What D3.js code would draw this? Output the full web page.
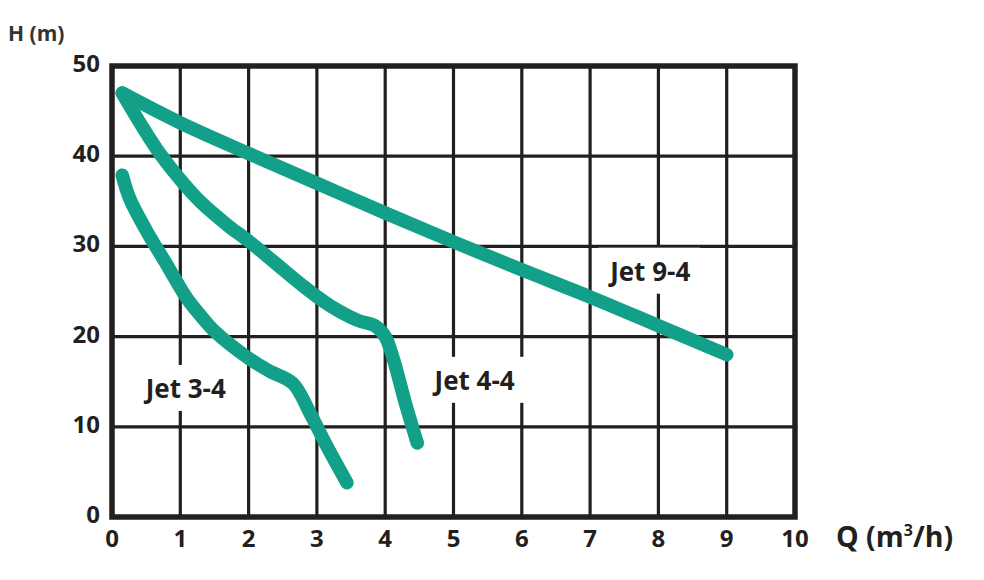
<!DOCTYPE html>
<html>
<head>
<meta charset="utf-8">
<script src="https://cdn.jsdelivr.net/npm/d3@7"></script>
<style>
  html, body { margin: 0; padding: 0; background: #fff; }
  svg { display: block; }
  text { font-family: "Open Sans", "Noto Sans", sans-serif; font-weight: 700; }
</style>
</head>
<body>
<svg id="chart" width="984" height="580"></svg>
<script>
// ---- data ----
const qTicks = [0, 1, 2, 3, 4, 5, 6, 7, 8, 9, 10];
const hTicks = [0, 10, 20, 30, 40, 50];

const jet94Q = [0.15, 1, 2, 3, 4, 5, 6, 7, 8, 9];
const jet94H = [47, 43.7, 40.3, 37.0, 33.7, 30.5, 27.4, 24.4, 21.2, 18];

const jet44Q = [0.15, 0.45, 0.7, 1.0, 1.3, 1.7, 2.0, 2.4, 2.8, 3.2, 3.6, 3.85, 4.0, 4.12, 4.3, 4.47];
const jet44H = [47, 43.2, 40.3, 37.4, 34.9, 32.3, 30.6, 28.1, 25.6, 23.4, 21.8, 21.2, 20.0, 17.5, 12.5, 8.2];

const jet34Q = [0.15, 0.26, 0.5, 0.8, 1.1, 1.3, 1.5, 2.0, 2.3, 2.65, 2.9, 3.15, 3.44];
const jet34H = [37.9, 35.3, 31.8, 28.0, 24.2, 22.3, 20.6, 17.6, 16.2, 14.8, 11.5, 7.8, 3.8];

const seriesNames = ["Jet 9-4", "Jet 4-4", "Jet 3-4"];
const labelQ = [7.88, 5.31, 1.08];
const labelH = [26.2, 14.1, 13.2];

// ---- layout ----
const svg = d3.select("#chart");
const x = d3.scaleLinear().domain([0, 10]).range([112, 795]);
const y = d3.scaleLinear().domain([0, 50]).range([517, 66]);
const ink = "#231f20";
const teal = "#13a088";

// grid lines
const grid = svg.append("g");
grid.selectAll("line.v").data(qTicks.slice(1, -1)).enter().append("line")
  .attr("x1", d => x(d)).attr("x2", d => x(d))
  .attr("y1", y(50)).attr("y2", y(0))
  .attr("stroke", ink).attr("stroke-width", 3.2);
grid.selectAll("line.h").data(hTicks.slice(1, -1)).enter().append("line")
  .attr("y1", d => y(d)).attr("y2", d => y(d))
  .attr("x1", x(0)).attr("x2", x(10))
  .attr("stroke", ink).attr("stroke-width", 3.2);

// series labels with white backgrounds (break grid lines)
const labelsData = seriesNames.map((n, i) => ({ name: n, q: labelQ[i], h: labelH[i] }));
const lblG = svg.append("g");
const lbls = lblG.selectAll("g").data(labelsData).enter().append("g");
lbls.append("text")
  .attr("x", d => x(d.q)).attr("y", d => y(d.h))
  .attr("text-anchor", "middle")
  .attr("font-size", 26)
  .attr("fill", ink)
  .text(d => d.name);
lbls.each(function () {
  const g = d3.select(this);
  const bb = g.select("text").node().getBBox();
  g.insert("rect", "text")
    .attr("x", bb.x - 10).attr("y", bb.y - 5)
    .attr("width", bb.width + 20).attr("height", bb.height + 10)
    .attr("fill", "#fff");
});

// frame
svg.append("rect")
  .attr("x", x(0)).attr("y", y(50))
  .attr("width", x(10) - x(0)).attr("height", y(0) - y(50))
  .attr("fill", "none").attr("stroke", ink).attr("stroke-width", 5.5);

// curves
const line = d3.line()
  .x(d => x(d[0])).y(d => y(d[1]))
  .curve(d3.curveCatmullRom.alpha(0.5));
const series = [
  d3.zip(jet94Q, jet94H),
  d3.zip(jet44Q, jet44H),
  d3.zip(jet34Q, jet34H)
];
svg.append("g").selectAll("path").data(series).enter().append("path")
  .attr("d", line)
  .attr("fill", "none")
  .attr("stroke", teal)
  .attr("stroke-width", 13.5)
  .attr("stroke-linecap", "round")
  .attr("stroke-linejoin", "round");

// x tick labels
svg.append("g").selectAll("text").data(qTicks).enter().append("text")
  .attr("x", d => x(d)).attr("y", 547)
  .attr("text-anchor", "middle")
  .attr("font-size", 24)
  .attr("fill", ink)
  .text(d => d);

// y tick labels
svg.append("g").selectAll("text").data(hTicks).enter().append("text")
  .attr("x", 100).attr("y", d => y(d) + 6)
  .attr("text-anchor", "end")
  .attr("font-size", 24)
  .attr("fill", ink)
  .text(d => d);

// axis titles
svg.append("text")
  .attr("x", 8).attr("y", 41)
  .attr("font-size", 21)
  .attr("fill", "#333")
  .text("H (m)");
const qt = svg.append("text")
  .attr("x", 836).attr("y", 547)
  .attr("font-size", 28.5)
  .attr("fill", ink);
qt.append("tspan").text("Q (m");
qt.append("tspan").text("3").attr("font-size", 16).attr("dy", -11);
qt.append("tspan").text("/h)").attr("dy", 11);
</script>
</body>
</html>
